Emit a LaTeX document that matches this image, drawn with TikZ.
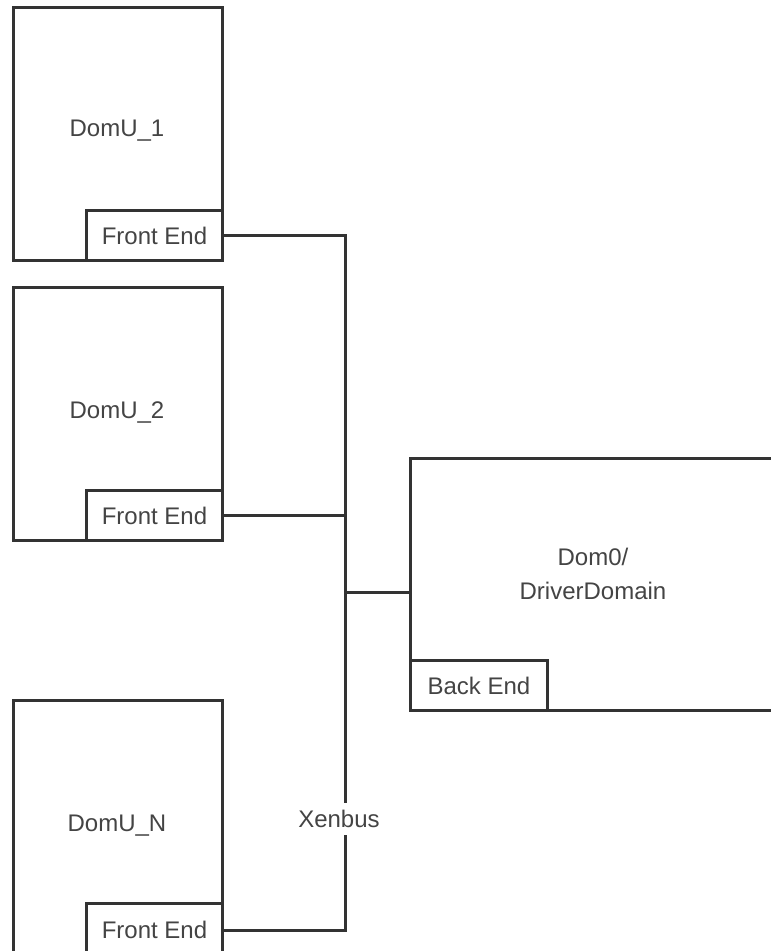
\documentclass[tikz,border=0pt]{standalone}
\usepackage{fontspec}
\setmainfont{Liberation Sans}
\usetikzlibrary{calc}
\definecolor{edge}{HTML}{333333}
\definecolor{ink}{HTML}{444444}
\begin{document}
\begin{tikzpicture}[x=1pt,y=-1pt,
  box/.style={draw=edge,line width=3pt,fill=white,rectangle,inner sep=0pt,anchor=north west},
  lbl/.style={text=ink,font=\fontsize{24}{28}\selectfont,inner sep=0pt,align=center},
  wire/.style={draw=edge,line width=3pt}]
\useasboundingbox (0,0) rectangle (771,951);
\clip (0,0) rectangle (771,951);

% guest domains with their front ends
\node[box,minimum width=209pt,minimum height=253pt] (u1) at (12,6) {};
\node[box,minimum width=136pt,minimum height=50pt] (fe1) at (85,209) {};
\node[lbl] at (fe1.center) {Front End};
\node[lbl] (u1t) at (117,131) {DomU\_1};

\node[box,minimum width=209pt,minimum height=253pt] (u2) at (12,286) {};
\node[box,minimum width=136pt,minimum height=50pt] (fe2) at (85,489) {};
\node[lbl] at (fe2.center) {Front End};
\node[lbl] (u2t) at (117,412) {DomU\_2};

\node[box,minimum width=209pt,minimum height=258pt] (un) at (12,699) {};
\node[box,minimum width=136pt,minimum height=53pt] (fen) at (85,902) {};
\node[lbl] at (fen.center) {Front End};
\node[lbl] (unt) at (117,826) {DomU\_N};

% driver domain with its back end
\node[box,minimum width=380pt,minimum height=252pt] (d0) at (409,457) {};
\node[box,minimum width=137pt,minimum height=50pt] (be) at (409,659) {};
\node[lbl] at (be.center) {Back End};
\node[lbl] (d0t) at (593,574) {Dom0/\\[6pt]DriverDomain};

% the bus
\node[lbl,minimum height=32pt] (xen) at (339,819) {Xenbus};
\coordinate (bus) at (345,592);
\draw[wire] (fe1.east) -| (bus |- xen.north);
\draw[wire] (fe2.east) -- (fe2.east -| bus);
\draw[wire] (fen.east) -| (bus |- xen.south);
\draw[wire] (bus) -- (bus -| d0.west);
\end{tikzpicture}
\end{document}
